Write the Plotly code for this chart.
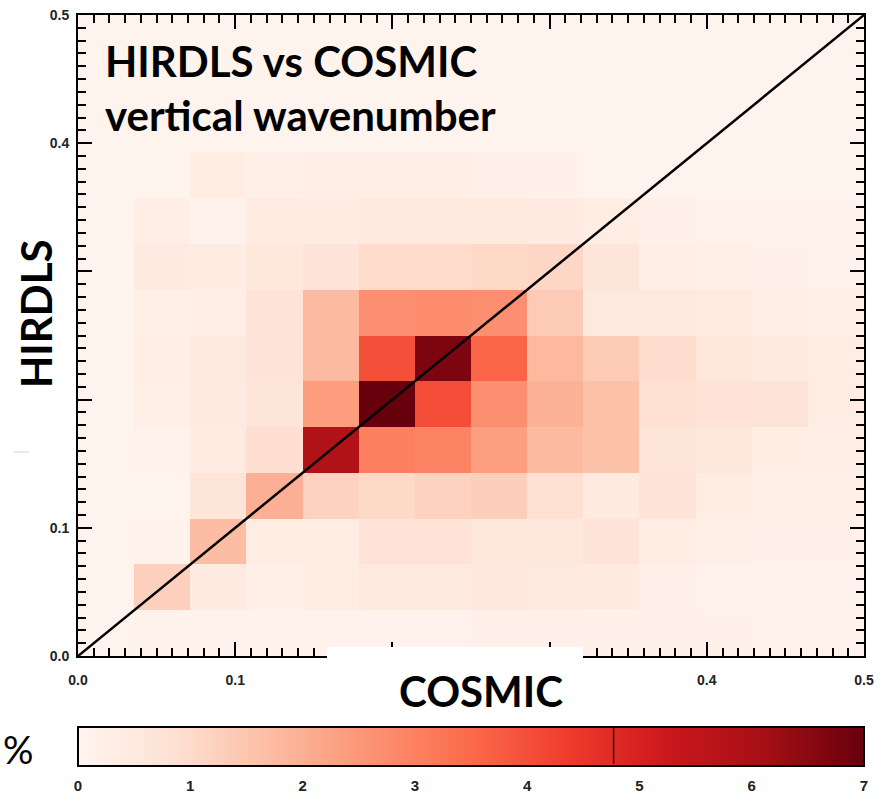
import plotly.graph_objects as go

# ---------------- data ----------------
n_bins = 14
axis_max = 0.5
bin_width = axis_max / n_bins

# percent of profile pairs per bin
# rows: HIRDLS bins from bottom (0.0) to top (0.5); columns: COSMIC bins from left (0.0) to right (0.5)
row00 = [0.10, 0.15, 0.15, 0.15, 0.15, 0.15, 0.15, 0.20, 0.20, 0.20, 0.20, 0.20, 0.15, 0.15]
row01 = [0.10, 1.25, 0.45, 0.25, 0.35, 0.50, 0.50, 0.55, 0.50, 0.45, 0.20, 0.15, 0.15, 0.15]
row02 = [0.10, 0.15, 1.70, 0.35, 0.35, 0.75, 0.75, 0.60, 0.60, 0.70, 0.35, 0.25, 0.20, 0.20]
row03 = [0.10, 0.10, 0.65, 2.00, 1.20, 1.05, 1.20, 1.30, 0.85, 0.45, 0.70, 0.35, 0.25, 0.25]
row04 = [0.10, 0.15, 0.40, 0.90, 5.85, 3.05, 2.95, 2.35, 1.75, 1.60, 0.65, 0.60, 0.35, 0.30]
row05 = [0.10, 0.25, 0.45, 0.65, 2.40, 7.00, 4.05, 2.70, 1.95, 1.60, 0.85, 0.75, 0.70, 0.35]
row06 = [0.10, 0.30, 0.50, 0.70, 1.75, 4.00, 6.70, 3.60, 1.80, 1.40, 0.95, 0.60, 0.45, 0.35]
row07 = [0.10, 0.25, 0.30, 0.70, 1.75, 2.70, 2.75, 2.70, 1.40, 0.50, 0.50, 0.40, 0.30, 0.25]
row08 = [0.10, 0.45, 0.40, 0.60, 0.70, 1.00, 1.00, 1.05, 1.10, 0.65, 0.30, 0.25, 0.20, 0.15]
row09 = [0.10, 0.30, 0.15, 0.40, 0.40, 0.50, 0.50, 0.50, 0.45, 0.35, 0.20, 0.15, 0.15, 0.15]
row10 = [0.10, 0.10, 0.35, 0.25, 0.30, 0.30, 0.30, 0.20, 0.20, 0.10, 0.10, 0.10, 0.10, 0.10]
row11 = [0.10, 0.10, 0.10, 0.10, 0.10, 0.10, 0.10, 0.10, 0.10, 0.10, 0.10, 0.10, 0.10, 0.10]
row12 = [0.10, 0.10, 0.10, 0.10, 0.10, 0.10, 0.10, 0.10, 0.10, 0.10, 0.10, 0.10, 0.10, 0.10]
row13 = [0.10, 0.10, 0.10, 0.10, 0.10, 0.10, 0.10, 0.10, 0.10, 0.10, 0.10, 0.10, 0.10, 0.10]
percent = [row00, row01, row02, row03, row04, row05, row06,
           row07, row08, row09, row10, row11, row12, row13]

axis_tickvals = [0.0, 0.1, 0.2, 0.3, 0.4, 0.5]
x_ticktext = ["0.0", "0.1", "", "", "0.4", "0.5"]
y_ticktext = ["0.0", "0.1", "", "", "0.4", "0.5"]
cbar_min, cbar_max = 0, 7
cbar_ticks = [0, 1, 2, 3, 4, 5, 6, 7]
cbar_marker_value = 4.77
one_to_one = [0.0, 0.5]

reds = [
    [0.000, "#fff5f0"], [0.125, "#fee0d2"], [0.250, "#fcbba1"],
    [0.375, "#fc9272"], [0.500, "#fb6a4a"], [0.625, "#ef3b2c"],
    [0.750, "#cb181d"], [0.875, "#a50f15"], [1.000, "#67000d"],
]

# ---------------- layout geometry (pixels) ----------------
W, H = 892, 794
ML, MR, MT, MB = 78, 28, 15, 138
PW, PH = W - ML - MR, H - MT - MB


def px_x(p):
    return (p - ML) / PW


def px_y(p):
    return (H - MB - p) / PH


cbar_top_px, cbar_thick_px = 727, 39

fig = go.Figure()

fig.add_trace(go.Heatmap(
    z=percent,
    x0=bin_width / 2, dx=bin_width,
    y0=bin_width / 2, dy=bin_width,
    zmin=cbar_min, zmax=cbar_max,
    colorscale=reds,
    showscale=True,
    colorbar=dict(
        orientation="h",
        x=0.5, xanchor="center",
        len=1.0, lenmode="fraction",
        y=px_y(cbar_top_px), yanchor="top",
        thickness=cbar_thick_px, thicknessmode="pixels",
        outlinewidth=2, outlinecolor="black",
        xpad=0, ypad=0,
        tickvals=cbar_ticks,
        ticks="outside", ticklen=6, tickcolor="rgba(0,0,0,0)",
        tickfont=dict(family="Liberation Sans", size=15, color="#222", weight="bold"),
    ),
    hoverinfo="skip",
))

fig.add_trace(go.Scatter(
    x=one_to_one, y=one_to_one, mode="lines",
    line=dict(color="black", width=2.5),
    showlegend=False, hoverinfo="skip",
))

axis_common = dict(
    range=[0, axis_max],
    showline=True, linecolor="black", linewidth=2,
    mirror="allticks",
    ticks="inside", ticklen=14, tickwidth=2, tickcolor="black",
    tickvals=axis_tickvals,
    tickfont=dict(family="Liberation Sans", size=14, color="#222", weight="bold"),
    minor=dict(ticks="inside", ticklen=8, tickwidth=2, tickcolor="black",
               dtick=0.01, showgrid=False),
    showgrid=False, zeroline=False,
)

fig.update_xaxes(**axis_common, ticktext=x_ticktext, ticklabelstandoff=10)
fig.update_yaxes(**axis_common, ticktext=y_ticktext, ticklabelstandoff=4)

title_font = dict(family="Lato", size=42, color="black", weight="bold")

fig.update_layout(
    width=W, height=H,
    margin=dict(l=ML, r=MR, t=MT, b=MB, autoexpand=False),
    paper_bgcolor="white", plot_bgcolor="#fff5f0",
    showlegend=False,
    shapes=[
        dict(type="rect", xref="paper", yref="paper",
             x0=px_x(327), x1=px_x(583), y0=px_y(710), y1=px_y(647),
             fillcolor="white", line=dict(width=0), layer="above"),
        dict(type="line", xref="paper", yref="paper",
             x0=px_x(14), x1=px_x(29), y0=px_y(452), y1=px_y(452),
             line=dict(color="#d0d0d0", width=1), layer="above"),
    ],
    annotations=[
        dict(text="HIRDLS vs COSMIC", xref="paper", yref="paper",
             x=px_x(103), y=px_y(61), xanchor="left", yanchor="middle",
             showarrow=False, font=title_font),
        dict(text="vertical wavenumber", xref="paper", yref="paper",
             x=px_x(103), y=px_y(115), xanchor="left", yanchor="middle",
             showarrow=False, font=title_font),
        dict(text="COSMIC", xref="paper", yref="paper",
             x=px_x(481), y=px_y(691), xanchor="center", yanchor="middle",
             showarrow=False, font=title_font),
        dict(text="HIRDLS", xref="paper", yref="paper",
             x=px_x(36), y=px_y(314), xanchor="center", yanchor="middle",
             textangle=-90, showarrow=False, font=title_font),
        dict(text="%", xref="paper", yref="paper",
             x=px_x(1), y=px_y(749), xanchor="left", yanchor="middle",
             showarrow=False,
             font=dict(family="Lato", size=38, color="black")),
        # thin dark marker line drawn across the colour bar
        dict(text="", xref="paper", yref="paper",
             x=cbar_marker_value / cbar_max, y=px_y(cbar_top_px + 1),
             showarrow=True, arrowhead=0, arrowwidth=1.5, arrowcolor="#3a0000",
             ax=0, ay=cbar_thick_px - 2, standoff=0, startstandoff=0),
    ],
)

fig.write_html("out.html")
